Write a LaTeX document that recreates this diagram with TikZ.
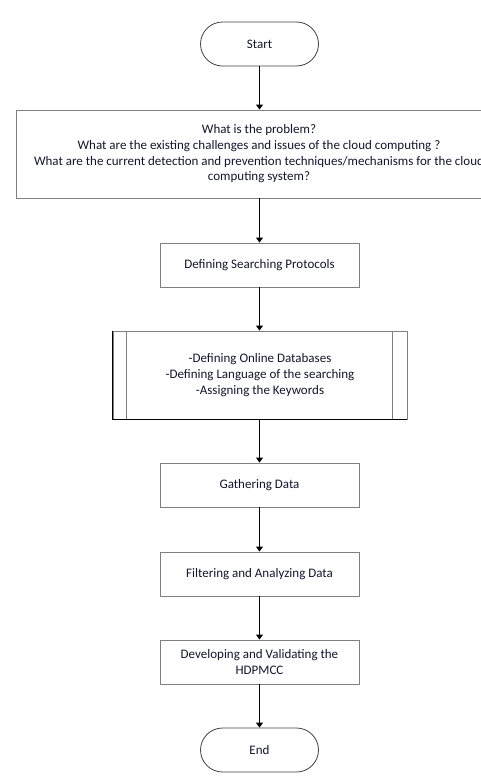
\documentclass[tikz,border=0pt]{standalone}
\usepackage{fontspec}
\setmainfont{Carlito}
\usetikzlibrary{arrows.meta}
\definecolor{txt}{HTML}{14142E}
\definecolor{edge}{HTML}{808080}
\begin{document}
\begin{tikzpicture}[x=1pt,y=-1pt,
  every node/.style={font=\fontsize{13}{15.7}\selectfont, text=txt, align=center, inner sep=0pt},
  term/.style={draw=black!75, line width=0.8pt, rounded corners=22pt, minimum width=118pt, minimum height=44pt},
  box/.style={draw=edge, line width=0.9pt, minimum height=44pt},
  flow/.style={draw=black, line width=0.9pt, -{Triangle[length=5pt,width=7pt]}}]
\useasboundingbox (0,0) rectangle (481,777);
\clip (0,0) rectangle (481,777);
\node[term] (start) at (259.5,44) {Start};
\node[box, minimum width=486pt, minimum height=88pt] (q) at (259,154)
  {What is the problem?\\What are the existing challenges and issues of the cloud computing ?\\What are the current detection and prevention techniques/mechanisms for the cloud\\computing system?};
\node[box, minimum width=199pt] (proto) at (259.5,265) {Defining Searching Protocols};
\node[box, minimum width=294pt, minimum height=88pt] (db) at (260,375)
  {-Defining Online Databases\\-Defining Language of the searching\\-Assigning the Keywords};
\draw[edge, line width=0.9pt] ([xshift=14pt]db.north west) -- ([xshift=14pt]db.south west);
\draw[edge, line width=0.9pt] ([xshift=-15pt]db.north east) -- ([xshift=-15pt]db.south east);
\draw[black, line width=0.9pt] (db.north west) -- (db.south west) -- (db.south east);
\node[box, minimum width=199pt] (gather) at (259.5,485) {Gathering Data};
\node[box, minimum width=199pt] (filter) at (259.5,574) {Filtering and Analyzing Data};
\node[box, minimum width=199pt] (dev) at (259.5,662) {Developing and Validating the\\HDPMCC};
\node[term] (end) at (259.5,750) {End};
\draw[flow] (start) -- (start.south |- q.north);
\draw[flow] (start.south |- q.south) -- (proto);
\draw[flow] (proto) -- (proto.south |- db.north);
\draw[flow] (proto.south |- db.south) -- (gather);
\draw[flow] (gather) -- (filter);
\draw[flow] (filter) -- (dev);
\draw[flow] (dev) -- (end);
\end{tikzpicture}
\end{document}
